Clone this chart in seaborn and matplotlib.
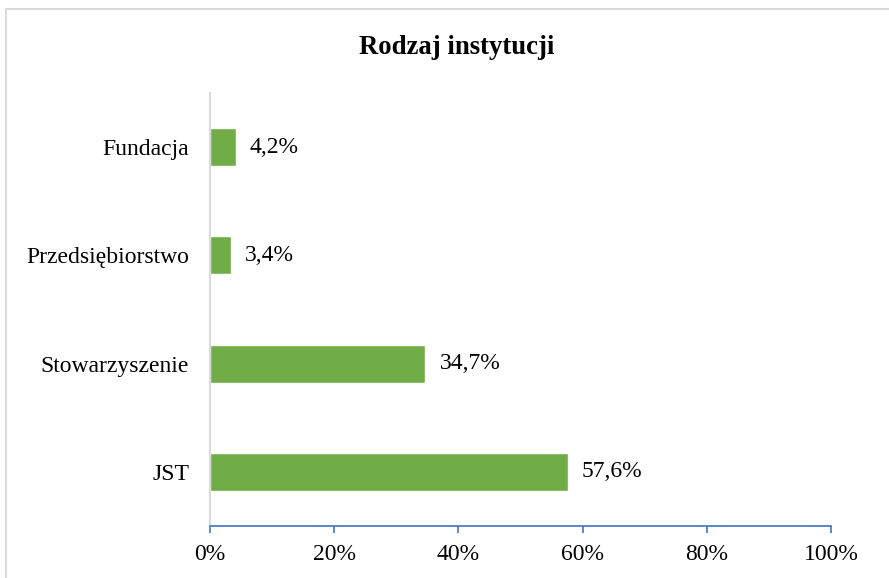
import matplotlib
matplotlib.use('Agg')
import matplotlib.pyplot as plt
import seaborn as sns
import pandas as pd
from matplotlib.ticker import PercentFormatter
from matplotlib.patches import Rectangle

# Chart data
categories = ['Fundacja', 'Przedsiębiorstwo', 'Stowarzyszenie', 'JST']
shares = [4.2, 3.4, 34.7, 57.6]
bar_labels = ['4,2%', '3,4%', '34,7%', '57,6%']

df = pd.DataFrame({'Kategoria': categories, 'Udzial': shares})

sns.set_style('white')
plt.rcParams['font.family'] = ['Liberation Serif', 'DejaVu Serif']
plt.rcParams['text.color'] = 'black'
plt.rcParams['xtick.color'] = 'black'
plt.rcParams['ytick.color'] = 'black'

fig = plt.figure(figsize=(8.89, 5.78), dpi=100)
ax = fig.add_axes([210 / 889, 1 - 526 / 578, 621 / 889, 433 / 578])

sns.barplot(data=df, x='Udzial', y='Kategoria', orient='h', color='#70AD47',
            saturation=1, width=0.35, ax=ax)

for container in ax.containers:
    ax.bar_label(container, labels=bar_labels, padding=10, fontsize=17,
                 color='black')

ax.set_xlim(0, 100)
ax.set_xticks([0, 20, 40, 60, 80, 100])
ax.xaxis.set_major_formatter(PercentFormatter(decimals=0))
ax.set_xlabel('')
ax.set_ylabel('')
ax.tick_params(axis='x', labelsize=17, length=5, width=1.2, color='#4472C4',
               labelcolor='black', direction='out', pad=8, bottom=True)
ax.tick_params(axis='y', labelsize=17, length=0, pad=15, labelcolor='black')

for side in ['top', 'right']:
    ax.spines[side].set_visible(False)
ax.spines['bottom'].set_color('#4472C4')
ax.spines['bottom'].set_linewidth(1.2)
ax.spines['left'].set_color('#D9D9D9')
ax.spines['left'].set_linewidth(1.5)

fig.text(0.514, 1 - 48 / 578, 'Rodzaj instytucji', ha='center', va='center',
         fontsize=19.3, fontweight='bold', color='black')

# chart area border
fig.patches.append(Rectangle((6 / 889, -0.05), 1.1, 1 - 9 / 578 + 0.05,
                             transform=fig.transFigure, fill=False,
                             edgecolor='#D9D9D9', linewidth=1.5))

fig.savefig('out.png', dpi=100)
